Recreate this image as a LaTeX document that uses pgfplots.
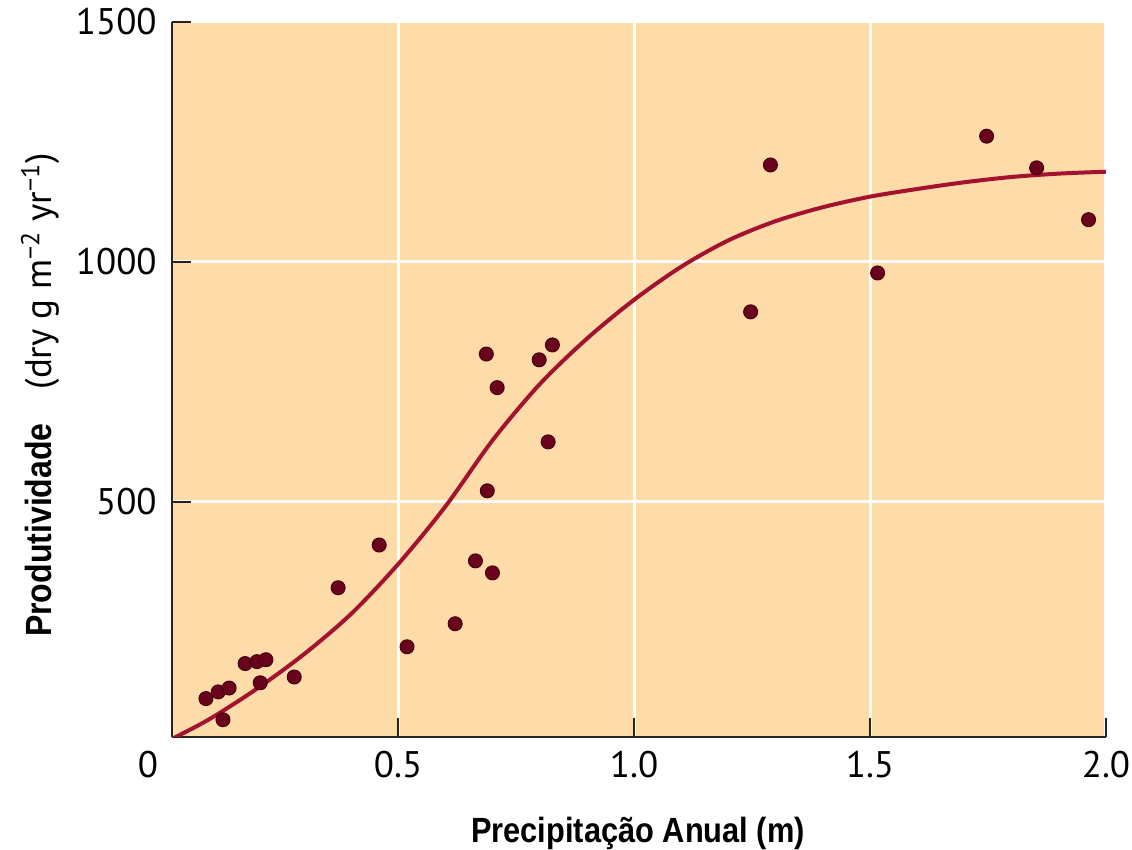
\documentclass[border=0pt]{standalone}
\usepackage{fontspec}
\setmainfont{PT Sans}
\newfontfamily\condsans[FakeStretch=0.88]{Liberation Sans}
\usepackage{pgfplots}
\pgfplotsset{compat=1.18}

\definecolor{panel}{RGB}{253,220,170}
\definecolor{fitline}{RGB}{163,18,47}
\definecolor{dotfill}{RGB}{106,4,28}
\definecolor{dotedge}{RGB}{72,0,16}
\definecolor{axisgray}{RGB}{40,35,30}

\newcommand{\tickfont}{\fontsize{18.5}{20}\selectfont}
\newcommand{\labfont}{\fontsize{17.5}{20}\selectfont\condsans\bfseries}

\begin{document}
\begin{tikzpicture}
\useasboundingbox (-86pt,-56.5pt) rectangle (480pt,368.5pt);
\begin{axis}[
  scale only axis, width=467pt, height=357.5pt,
  xmin=0.021, xmax=2.0, ymin=10, ymax=1500,
  axis lines=left,
  axis line style={-, draw=axisgray, line width=1pt},
  axis background/.style={fill=panel},
  xtick={0.5,1,1.5,2}, xticklabels={0.5,1.0,1.5,2.0},
  ytick={500,1000,1500}, yticklabels={500,1000,1500},
  tick align=inside, major tick length=9.5pt,
  tick style={draw=axisgray, line width=1pt},
  xmajorgrids, ymajorgrids,
  grid style={white, line width=1.5pt},
  /pgf/number format/assume math mode=true,
  ticklabel style={font=\tickfont},
  xticklabel style={anchor=center, yshift=-14pt},
  yticklabel style={anchor=east, inner sep=0pt, xshift=-7.5pt},
  clip=true,
]
% fitted response curve
\addplot[fitline, line width=2pt, smooth] coordinates {
  (0.021,6) (0.1,47) (0.2,110) (0.3,182) (0.4,266) (0.5,370)
  (0.6,490) (0.7,628) (0.8,745) (0.9,840) (1.0,921) (1.1,990)
  (1.2,1045) (1.3,1085) (1.4,1114) (1.5,1136) (1.6,1152)
  (1.7,1166) (1.8,1177) (1.9,1184) (2.0,1188)
};
% observed sites
\addplot[only marks, mark=*, mark size=3.5pt,
  mark options={fill=dotfill, draw=dotedge, line width=0.5pt}] coordinates {
  (0.093,90) (0.119,104) (0.142,112) (0.129,46) (0.176,163)
  (0.201,167) (0.220,171) (0.208,123) (0.280,135) (0.373,321)
  (0.460,410) (0.519,198) (0.621,246) (0.664,377) (0.700,352)
  (0.689,523) (0.687,808) (0.710,738) (0.799,796) (0.827,827)
  (0.818,625) (1.247,896) (1.289,1202) (1.516,977) (1.747,1262)
  (1.853,1196) (1.963,1088)
};
\end{axis}
\node[font=\tickfont, anchor=center] at (-12pt,-14pt) {0};
\node[anchor=base] at (233pt,-53pt) {\labfont Precipitação Anual (m)};
\node[rotate=90, anchor=base] at (-60pt,171pt)
  {{\fontsize{18.2}{20}\selectfont\condsans\bfseries Produtividade}\hspace{17pt}{\tickfont\normalfont (dry g m\textsuperscript{−2} yr\textsuperscript{−1})}};
\end{tikzpicture}
\end{document}
